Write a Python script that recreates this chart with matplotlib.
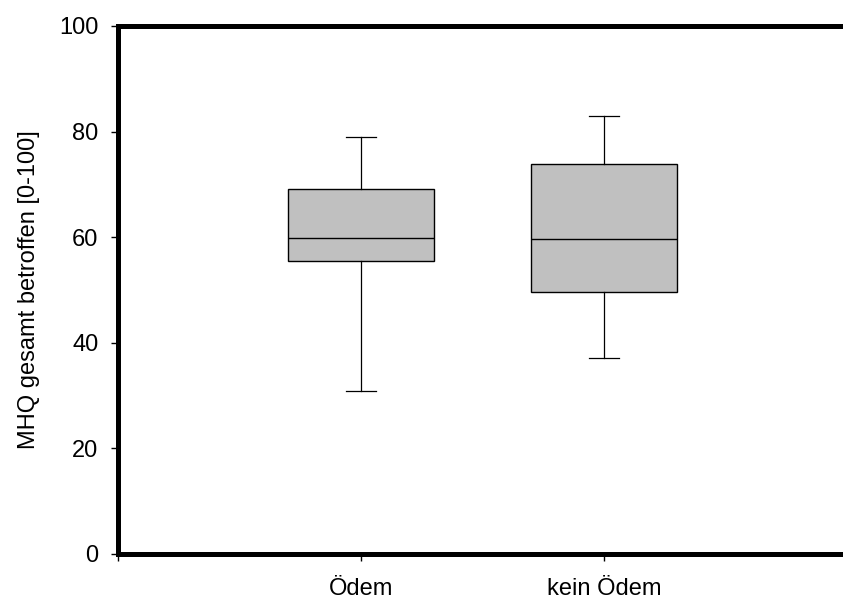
import matplotlib
matplotlib.use("Agg")
from matplotlib import pyplot as plt

plt.rcParams['font.family'] = ['Liberation Sans', 'DejaVu Sans']

groups = ["Ödem", "kein Ödem"]
whislo = [30.9, 37.2]
q1 = [55.4, 49.6]
med = [59.8, 59.7]
q3 = [69.1, 73.9]
whishi = [79.0, 83.0]

stats = []
for i in range(len(groups)):
    stats.append({"label": groups[i], "whislo": whislo[i], "q1": q1[i],
                  "med": med[i], "q3": q3[i], "whishi": whishi[i], "fliers": []})

fig = plt.figure(figsize=(8.43, 5.99), dpi=100)
ax = fig.add_axes([118/843, 45/599, 729/843, 528/599])

ax.bxp(stats, positions=[1, 2], widths=0.6, patch_artist=True, showfliers=False,
       boxprops=dict(facecolor="#c0c0c0", edgecolor="black", linewidth=1.0),
       medianprops=dict(color="black", linewidth=1.0),
       whiskerprops=dict(color="black", linewidth=0.9),
       capprops=dict(color="black", linewidth=0.9),
       capwidths=0.125)

ax.set_xlim(0, 3)
ax.set_ylim(0, 100)
ax.set_xticks([0, 1, 2, 3])
ax.set_xticklabels(["", "Ödem", "kein Ödem", ""], fontsize=17)
ax.set_yticks([0, 20, 40, 60, 80, 100])
ax.tick_params(axis="y", labelsize=17, direction="out", length=5, width=1, pad=9)
ax.tick_params(axis="x", direction="out", length=5, width=1, pad=12)
ax.set_ylabel("MHQ gesamt betroffen [0-100]", fontsize=17, labelpad=14)

for s in ["left", "top", "bottom"]:
    ax.spines[s].set_linewidth(3.6)
ax.spines["right"].set_visible(False)

fig.savefig("out.png", dpi=100)
